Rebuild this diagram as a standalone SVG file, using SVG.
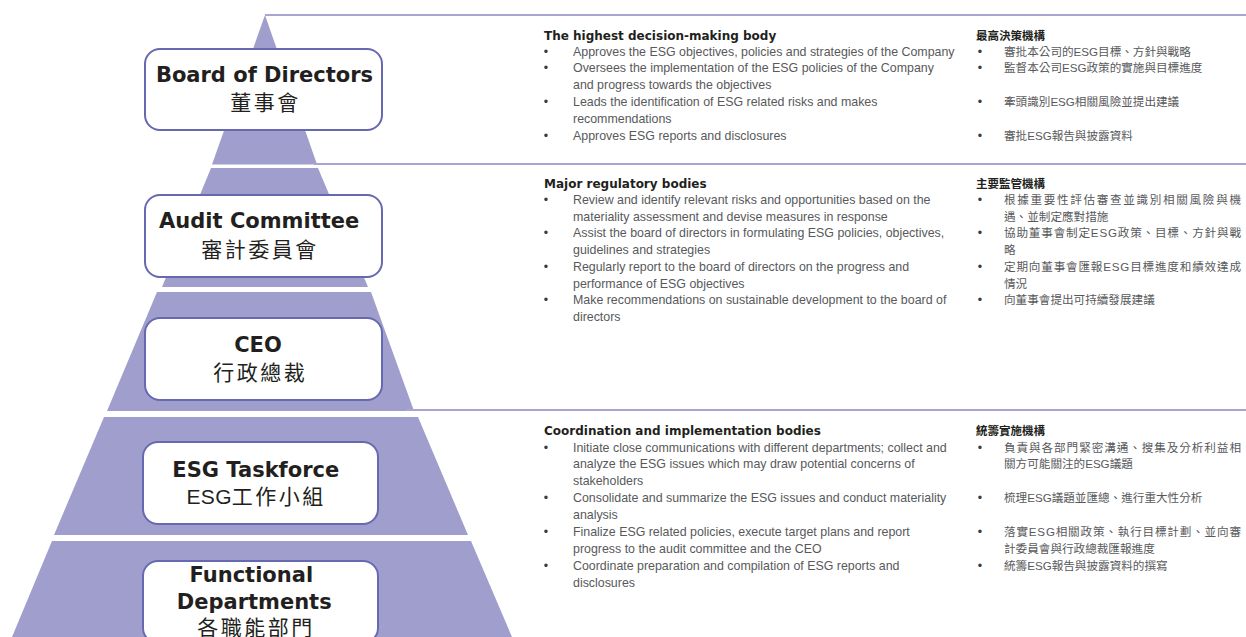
<svg xmlns="http://www.w3.org/2000/svg" width="1246" height="637" viewBox="0 0 1246 637">
  <style>
    .band { fill: #a09ecc; }
    .rule { stroke: #a7a5d2; stroke-width: 2; fill: none; }
    .box { fill: #ffffff; stroke: #6669b0; stroke-width: 2; }
    .ttl { font-family: "DejaVu Sans", sans-serif; font-weight: bold; font-size: 21px; fill: #231f20; text-anchor: middle; }
    .ttl-zh { font-family: "Liberation Sans", "Noto Sans CJK TC", sans-serif; font-size: 21px; letter-spacing: 2.5px; fill: #231f20; text-anchor: middle; }
    .lat { letter-spacing: 0.3px; }
    .hd { font-family: "DejaVu Sans", sans-serif; font-weight: bold; font-size: 12px; fill: #231f20; }
    .hd-zh { font-family: "Noto Sans CJK TC", sans-serif; font-weight: bold; font-size: 11.5px; fill: #231f20; }
    .tx { font-family: "Liberation Sans", sans-serif; font-size: 12.4px; fill: #58595b; }
    .tx-zh { font-family: "Liberation Sans", "Noto Sans CJK TC", sans-serif; font-size: 11.6px; fill: #58595b; }
    .bl { font-family: "Liberation Sans", sans-serif; font-size: 12.4px; fill: #3a3a3a; text-anchor: middle; }
  </style>

  <!-- pyramid bands -->
  <g id="pyramid">
    <polygon class="band" points="265,15 317,164.5 212,164.5"/>
    <polygon class="band" points="211,168 318,168 368,287 162,287"/>
    <polygon class="band" points="157,292 371,292 414,411 107,411"/>
    <polygon class="band" points="104,417 418,417 468,535 54,535"/>
    <polygon class="band" points="52,541 471,541 512,637 12,637"/>
  </g>

  <!-- section dividers running out from the pyramid -->
  <g id="connectors">
    <line class="rule" x1="265" y1="15" x2="1246" y2="15"/>
    <line class="rule" x1="314" y1="164" x2="1246" y2="164"/>
    <line class="rule" x1="406" y1="410" x2="1246" y2="410"/>
  </g>

  <!-- tier nodes -->
  <g id="node-board">
    <rect class="box" x="145" y="49" width="237" height="81" rx="15"/>
    <text class="ttl" x="264.5" y="82.3">Board of Directors</text>
    <text class="ttl-zh" x="265.5" y="109.5">董事會</text>
  </g>
  <g id="node-audit">
    <rect class="box" x="145" y="195" width="237" height="82" rx="15"/>
    <text class="ttl" x="259.2" y="228.3">Audit Committee</text>
    <text class="ttl-zh" x="260" y="256.5">審計委員會</text>
  </g>
  <g id="node-ceo">
    <rect class="box" x="145" y="318" width="237" height="82" rx="15"/>
    <text class="ttl" x="258" y="352.3">CEO</text>
    <text class="ttl-zh" x="260.2" y="379.5">行政總裁</text>
  </g>
  <g id="node-taskforce">
    <rect class="box" x="143" y="442" width="235" height="82" rx="15"/>
    <text class="ttl" x="255.8" y="476.7">ESG Taskforce</text>
    <text class="ttl-zh" x="256.2" y="504.3"><tspan class="lat">ESG</tspan>工作小組</text>
  </g>
  <g id="node-departments">
    <rect class="box" x="143" y="561" width="235" height="82" rx="15"/>
    <text class="ttl" x="251.3" y="581.7">Functional</text>
    <text class="ttl" x="254.2" y="609.3">Departments</text>
    <text class="ttl-zh" x="256" y="634.5">各職能部門</text>
  </g>

  <!-- roles: highest decision-making body -->
  <g id="roles-board-en">
    <text class="hd" x="544" y="39.5">The highest decision-making body</text>
    <text class="bl" x="546" y="55.5">•</text>
    <text class="tx" x="573" y="55.5">Approves the ESG objectives, policies and strategies of the Company</text>
    <text class="bl" x="546" y="72.4">•</text>
    <text class="tx" x="573" y="72.4">Oversees the implementation of the ESG policies of the Company</text>
    <text class="tx" x="573" y="89.3">and progress towards the objectives</text>
    <text class="bl" x="546" y="106.2">•</text>
    <text class="tx" x="573" y="106.2">Leads the identification of ESG related risks and makes</text>
    <text class="tx" x="573" y="123.1">recommendations</text>
    <text class="bl" x="546" y="140">•</text>
    <text class="tx" x="573" y="140">Approves ESG reports and disclosures</text>
  </g>
  <g id="roles-board-zh">
    <text class="hd-zh" x="976" y="39.5">最高決策機構</text>
    <text class="bl" x="980" y="55.5">•</text>
    <text class="tx-zh" x="1004" y="55.5">審批本公司的ESG目標、方針與戰略</text>
    <text class="bl" x="980" y="72.4">•</text>
    <text class="tx-zh" x="1004" y="72.4">監督本公司ESG政策的實施與目標進度</text>
    <text class="bl" x="980" y="106.2">•</text>
    <text class="tx-zh" x="1004" y="106.2">牽頭識別ESG相關風險並提出建議</text>
    <text class="bl" x="980" y="140">•</text>
    <text class="tx-zh" x="1004" y="140">審批ESG報告與披露資料</text>
  </g>

  <!-- roles: major regulatory bodies -->
  <g id="roles-audit-en">
    <text class="hd" x="544" y="187.5">Major regulatory bodies</text>
    <text class="bl" x="546" y="204">•</text>
    <text class="tx" x="573" y="204">Review and identify relevant risks and opportunities based on the</text>
    <text class="tx" x="573" y="220.7">materiality assessment and devise measures in response</text>
    <text class="bl" x="546" y="237.4">•</text>
    <text class="tx" x="573" y="237.4">Assist the board of directors in formulating ESG policies, objectives,</text>
    <text class="tx" x="573" y="254.1">guidelines and strategies</text>
    <text class="bl" x="546" y="270.8">•</text>
    <text class="tx" x="573" y="270.8">Regularly report to the board of directors on the progress and</text>
    <text class="tx" x="573" y="287.5">performance of ESG objectives</text>
    <text class="bl" x="546" y="304.2">•</text>
    <text class="tx" x="573" y="304.2">Make recommendations on sustainable development to the board of</text>
    <text class="tx" x="573" y="320.9">directors</text>
  </g>
  <g id="roles-audit-zh">
    <text class="hd-zh" x="976" y="187.5">主要監管機構</text>
    <text class="bl" x="980" y="204">•</text>
    <text class="tx-zh" x="1004" y="204" textLength="237">根據重要性評估審查並識別相關風險與機</text>
    <text class="tx-zh" x="1004" y="220.7">遇、並制定應對措施</text>
    <text class="bl" x="980" y="237.4">•</text>
    <text class="tx-zh" x="1004" y="237.4" textLength="237">協助董事會制定ESG政策、目標、方針與戰</text>
    <text class="tx-zh" x="1004" y="254.1">略</text>
    <text class="bl" x="980" y="270.8">•</text>
    <text class="tx-zh" x="1004" y="270.8" textLength="237">定期向董事會匯報ESG目標進度和績效達成</text>
    <text class="tx-zh" x="1004" y="287.5">情況</text>
    <text class="bl" x="980" y="304.2">•</text>
    <text class="tx-zh" x="1004" y="304.2">向董事會提出可持續發展建議</text>
  </g>

  <!-- roles: coordination and implementation bodies -->
  <g id="roles-taskforce-en">
    <text class="hd" x="544" y="434.5">Coordination and implementation bodies</text>
    <text class="bl" x="546" y="451.5">•</text>
    <text class="tx" x="573" y="451.5">Initiate close communications with different departments; collect and</text>
    <text class="tx" x="573" y="468.4">analyze the ESG issues which may draw potential concerns of</text>
    <text class="tx" x="573" y="485.3">stakeholders</text>
    <text class="bl" x="546" y="502.2">•</text>
    <text class="tx" x="573" y="502.2">Consolidate and summarize the ESG issues and conduct materiality</text>
    <text class="tx" x="573" y="519.1">analysis</text>
    <text class="bl" x="546" y="536">•</text>
    <text class="tx" x="573" y="536">Finalize ESG related policies, execute target plans and report</text>
    <text class="tx" x="573" y="552.9">progress to the audit committee and the CEO</text>
    <text class="bl" x="546" y="569.8">•</text>
    <text class="tx" x="573" y="569.8">Coordinate preparation and compilation of ESG reports and</text>
    <text class="tx" x="573" y="586.7">disclosures</text>
  </g>
  <g id="roles-taskforce-zh">
    <text class="hd-zh" x="976" y="434.5">統籌實施機構</text>
    <text class="bl" x="980" y="451.5">•</text>
    <text class="tx-zh" x="1004" y="451.5" textLength="237">負責與各部門緊密溝通、搜集及分析利益相</text>
    <text class="tx-zh" x="1004" y="468.4">關方可能關注的ESG議題</text>
    <text class="bl" x="980" y="502.2">•</text>
    <text class="tx-zh" x="1004" y="502.2">梳理ESG議題並匯總、進行重大性分析</text>
    <text class="bl" x="980" y="536">•</text>
    <text class="tx-zh" x="1004" y="536" textLength="237">落實ESG相關政策、執行目標計劃、並向審</text>
    <text class="tx-zh" x="1004" y="552.9">計委員會與行政總裁匯報進度</text>
    <text class="bl" x="980" y="569.8">•</text>
    <text class="tx-zh" x="1004" y="569.8">統籌ESG報告與披露資料的撰寫</text>
  </g>
</svg>
